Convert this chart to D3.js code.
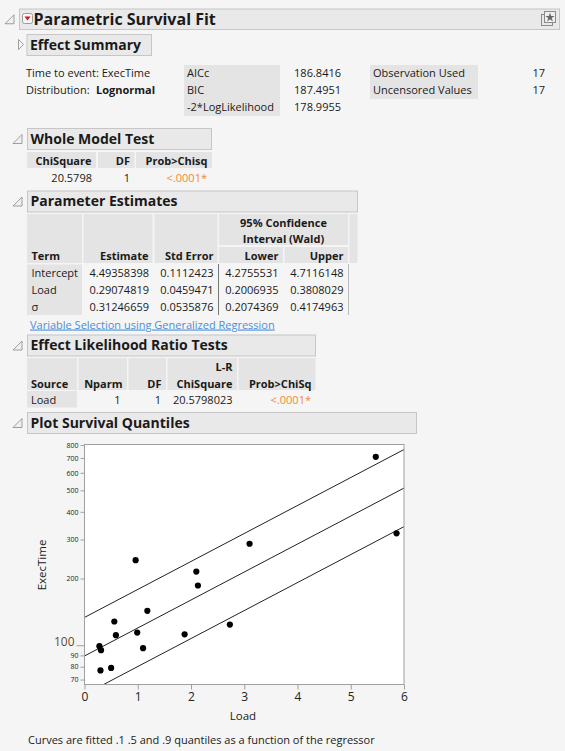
<!DOCTYPE html>
<html>
<head>
<meta charset="utf-8">
<script src="https://cdn.jsdelivr.net/npm/d3@7"></script>
<style>
  body { margin: 0; background: #f5f5f5; }
  text { font-family: "Open Sans", "Noto Sans", sans-serif; font-size: 11px; fill: #1a1a1a; }
  .hd { font-weight: bold; font-size: 14px; }
  .b { font-weight: bold; }
</style>
</head>
<body>
<script>
// ---- report values ----
const fitStatLabels = ['AICc', 'BIC', '-2*LogLikelihood'];
const fitStatValues = ['186.8416', '187.4951', '178.9955'];
const obsLabels = ['Observation Used', 'Uncensored Values'];
const obsValues = ['17', '17'];

const wholeModel = ['20.5798', '1', '<.0001*'];

const paramTerms = ['Intercept', 'Load', 'σ'];
const paramEstimates = ['4.49358398', '0.29074819', '0.31246659'];
const paramStdErrors = ['0.1112423', '0.0459471', '0.0535876'];
const paramLower = ['4.2755531', '0.2006935', '0.2074369'];
const paramUpper = ['4.7116148', '0.3808029', '0.4174963'];

const lrSource = ['Load'];
const lrNparm = ['1'];
const lrDF = ['1'];
const lrChiSquare = ['20.5798023'];
const lrProb = ['<.0001*'];

// ---- plot data ----
const loadValues = [0.28, 0.31, 0.30, 0.50, 0.56, 0.59, 0.99, 1.10, 1.18, 1.88, 2.13, 0.96, 2.10, 3.10, 5.47, 5.86, 2.73];
const execTimes  = [99, 95, 77, 79, 128, 111, 114, 97, 143, 112, 186, 242, 215, 287, 708, 320, 124];

const xTicks = [0, 1, 2, 3, 4, 5, 6];
const yTicks = [70, 80, 90, 100, 200, 300, 400, 500, 600, 700, 800];

// fitted lognormal quantiles: log(t) = b0 + b1*load + z*sigma
const intercept = 4.49358398, slope = 0.29074819, sigma = 0.31246659;
const quantileZ = [-1.2815516, 0, 1.2815516];   // .1 .5 .9

const orange = '#ee8a37';
const cellGray = '#e4e4e4';

const svg = d3.select('body').append('svg')
    .attr('width', 565)
    .attr('height', 751);

svg.append('rect').attr('width', 565).attr('height', 751).attr('fill', '#f5f5f5');

// outline header box with disclosure triangle
const header = (x0, y0, x1, h, title, open = true, cls = 'hd') => {
    const cy = y0 + h / 2;
    if (open) {
        svg.append('path')
            .attr('d', `M${x0 - 14},${cy + 5} L${x0 - 5},${cy + 5} L${x0 - 5},${cy - 4} Z`)
            .attr('fill', '#f0f0f0').attr('stroke', '#888').attr('stroke-width', 0.8);
    } else {
        svg.append('path')
            .attr('d', `M${x0 - 8},${cy - 5} L${x0 - 3},${cy} L${x0 - 8},${cy + 5} Z`)
            .attr('fill', '#f5f5f5').attr('stroke', '#888').attr('stroke-width', 0.8);
    }
    svg.append('rect')
        .attr('x', x0 + 0.5).attr('y', y0 + 0.5)
        .attr('width', x1 - x0).attr('height', h)
        .attr('fill', '#e9e9e9').attr('stroke', '#c6c6c6');
    return svg.append('text')
        .attr('class', cls)
        .attr('x', x0 + 3.5).attr('y', y0 + 15.5)
        .text(title);
};

const cell = (x0, y0, x1, y1) => svg.append('rect')
    .attr('x', x0).attr('y', y0)
    .attr('width', x1 - x0).attr('height', y1 - y0)
    .attr('fill', cellGray);

const txt = (x, y, s, anchor = 'start', cls = null, color = null) => {
    const t = svg.append('text').attr('x', x).attr('y', y).attr('text-anchor', anchor).text(s);
    if (cls) t.attr('class', cls);
    if (color) t.attr('fill', color).style('fill', color);
    return t;
};

/*==========  Parametric Survival Fit  ==========*/
header(19, 8.5, 559, 20.5, 'Parametric Survival Fit', true)
    .attr('x', 33.5).attr('y', 24.5).style('font-size', '16px');
// red menu button
svg.append('rect').attr('x', 22.5).attr('y', 13.5).attr('width', 10).attr('height', 10).attr('rx', 2)
    .attr('fill', '#f7f7f7').attr('stroke', '#9a9a9a');
svg.append('path').attr('d', 'M24.5,16.5 L30.5,16.5 L27.5,20.5 Z').attr('fill', '#d2141e');
// top right icon
svg.append('rect').attr('x', 541.5).attr('y', 14.5).attr('width', 11).attr('height', 11).attr('fill', 'none').attr('stroke', '#8a8a8a');
svg.append('rect').attr('x', 544.5).attr('y', 11.5).attr('width', 11).attr('height', 11).attr('fill', '#eee').attr('stroke', '#8a8a8a');
svg.append('path').attr('d', d3.symbol(d3.symbolStar, 26)()).attr('transform', 'translate(550,17.5)').attr('fill', '#666');

header(26.5, 34, 151, 21, 'Effect Summary', false);

txt(26, 77, 'Time to event: ExecTime');
txt(26, 93.5, 'Distribution:  ');
svg.append('text').attr('x', 96).attr('y', 93.5).attr('class', 'b').text('Lognormal');

cell(184, 65, 280, 116);
fitStatLabels.forEach((d, i) => {
    txt(187, 77 + i * 16.8, d);
    txt(341, 77 + i * 16.8, fitStatValues[i], 'end');
});
cell(370, 65, 478, 99);
obsLabels.forEach((d, i) => {
    txt(373, 77 + i * 16.8, d);
    txt(545, 77 + i * 16.8, obsValues[i], 'end');
});

/*==========  Whole Model Test  ==========*/
header(27, 128, 211, 21, 'Whole Model Test');
const wmCols = [[27, 96], [98, 134.5], [136, 212]];
const wmHeads = ['ChiSquare', 'DF', 'Prob>Chisq'];
wmCols.forEach((c, i) => {
    cell(c[0], 152, c[1], 168);
    txt(c[1] - 4.5, 164.5, wmHeads[i], 'end', 'b');
});
txt(92, 182, wholeModel[0], 'end');
txt(130, 182, wholeModel[1], 'end');
txt(207, 182, wholeModel[2], 'end', null, orange);

/*==========  Parameter Estimates  ==========*/
header(27, 190.5, 357, 21, 'Parameter Estimates');
cell(27, 214, 82, 263);
cell(83.5, 214, 152.5, 263);
cell(154.5, 214, 217.5, 263);
cell(219, 214, 348, 245);
cell(219, 247, 283, 263);
cell(284.5, 247, 348, 263);
cell(349.5, 214, 357.5, 263);
txt(283.5, 227, '95% Confidence', 'middle', 'b');
txt(283.5, 243, 'Interval (Wald)', 'middle', 'b');
txt(31.5, 259.5, 'Term', 'start', 'b');
txt(148.5, 259.5, 'Estimate', 'end', 'b');
txt(213.5, 259.5, 'Std Error', 'end', 'b');
txt(278.5, 259.5, 'Lower', 'end', 'b');
txt(343.5, 259.5, 'Upper', 'end', 'b');

cell(27, 264.5, 82, 315);
paramTerms.forEach((d, i) => {
    const y = 277 + i * 16.8;
    txt(31.5, y, d);
    txt(149, y, paramEstimates[i], 'end');
    txt(213.5, y, paramStdErrors[i], 'end');
    txt(278.5, y, paramLower[i], 'end');
    txt(343.5, y, paramUpper[i], 'end');
});
svg.append('line').attr('x1', 218.5).attr('x2', 218.5).attr('y1', 264).attr('y2', 315).attr('stroke', '#777');
svg.append('line').attr('x1', 348.5).attr('x2', 348.5).attr('y1', 264).attr('y2', 315).attr('stroke', '#bbb');

txt(30, 328.5, 'Variable Selection using Generalized Regression', 'start', null, '#4a8fd8')
    .style('text-decoration', 'underline');

/*==========  Effect Likelihood Ratio Tests  ==========*/
header(27, 334.5, 315, 21, 'Effect Likelihood Ratio Tests');
const lrCols = [[27, 77], [78.5, 127], [128.5, 166], [167.5, 237], [238.5, 315.5]];
lrCols.forEach(c => cell(c[0], 358, c[1], 390));
txt(232.5, 371, 'L-R', 'end', 'b');
txt(31, 387.5, 'Source', 'start', 'b');
txt(122.5, 387.5, 'Nparm', 'end', 'b');
txt(161.5, 387.5, 'DF', 'end', 'b');
txt(232.5, 387.5, 'ChiSquare', 'end', 'b');
txt(311.5, 387.5, 'Prob>ChiSq', 'end', 'b');

cell(27, 391, 77, 407.5);
lrSource.forEach((d, i) => {
    const y = 404 + i * 17;
    txt(31, y, d);
    txt(120.5, y, lrNparm[i], 'end');
    txt(161, y, lrDF[i], 'end');
    txt(232.5, y, lrChiSquare[i], 'end');
    txt(311, y, lrProb[i], 'end', null, orange);
});

/*==========  Plot Survival Quantiles  ==========*/
header(27, 412, 416, 21, 'Plot Survival Quantiles');

const plot = { left: 84.5, top: 444.5, right: 404, bottom: 684.5 };

const x = d3.scaleLinear().domain([0, 6]).range([plot.left, plot.right]);
const y = d3.scaleLog().domain([66.5, 805]).range([plot.bottom, plot.top]);

svg.append('rect')
    .attr('x', plot.left).attr('y', plot.top)
    .attr('width', plot.right - plot.left).attr('height', plot.bottom - plot.top)
    .attr('fill', '#fff');

svg.append('clipPath').attr('id', 'clip')
    .append('rect')
    .attr('x', plot.left).attr('y', plot.top)
    .attr('width', plot.right - plot.left).attr('height', plot.bottom - plot.top);

const lineGen = d3.line().x(d => x(d[0])).y(d => y(d[1]));
svg.append('g').attr('clip-path', 'url(#clip)')
    .selectAll('path')
    .data(quantileZ)
    .enter()
    .append('path')
    .attr('d', z => lineGen(x.domain().map(l => [l, Math.exp(intercept + slope * l + z * sigma)])))
    .attr('fill', 'none')
    .attr('stroke', '#222')
    .attr('stroke-width', 1);

svg.append('g')
    .selectAll('circle')
    .data(loadValues)
    .enter()
    .append('circle')
    .attr('cx', d => x(d))
    .attr('cy', (d, i) => y(execTimes[i]))
    .attr('r', 3.1)
    .attr('fill', '#000');

// frame
svg.append('rect')
    .attr('x', plot.left).attr('y', plot.top)
    .attr('width', plot.right - plot.left).attr('height', plot.bottom - plot.top)
    .attr('fill', 'none').attr('stroke', '#a0a0a0');

// x axis
const xAxis = svg.append('g')
    .attr('transform', `translate(0,${plot.bottom})`)
    .call(d3.axisBottom(x).tickValues(xTicks).tickSize(5).tickPadding(3).tickFormat(d3.format('d')));
xAxis.select('.domain').remove();
xAxis.selectAll('line').attr('stroke', '#a0a0a0');
xAxis.selectAll('text').style('font-size', '12px').style('fill', '#222');

// y axis (log)
const yAxis = svg.append('g')
    .attr('transform', `translate(${plot.left},0)`)
    .call(d3.axisLeft(y).tickValues(yTicks).tickSize(4).tickPadding(2).tickFormat(d3.format('d')));
yAxis.select('.domain').remove();
yAxis.selectAll('line').attr('stroke', '#a0a0a0');
yAxis.selectAll('text').style('font-size', '7px').style('fill', '#222');
yAxis.selectAll('.tick').filter(d => d === 100).each(function () {
    d3.select(this).select('line').attr('x2', -8);
    d3.select(this).select('text').attr('x', -10).attr('dy', '0.06em')
        .style('font-size', '12px').style('fill', '#6b4a1e');
});

txt(243, 720, 'Load', 'middle').style('font-size', '11.5px');
svg.append('text')
    .attr('transform', 'translate(46,565) rotate(-90)')
    .attr('text-anchor', 'middle')
    .style('font-size', '11.5px')
    .text('ExecTime');

txt(28, 744, 'Curves are fitted .1 .5 and .9 quantiles as a function of the regressor');
</script>
</body>
</html>
